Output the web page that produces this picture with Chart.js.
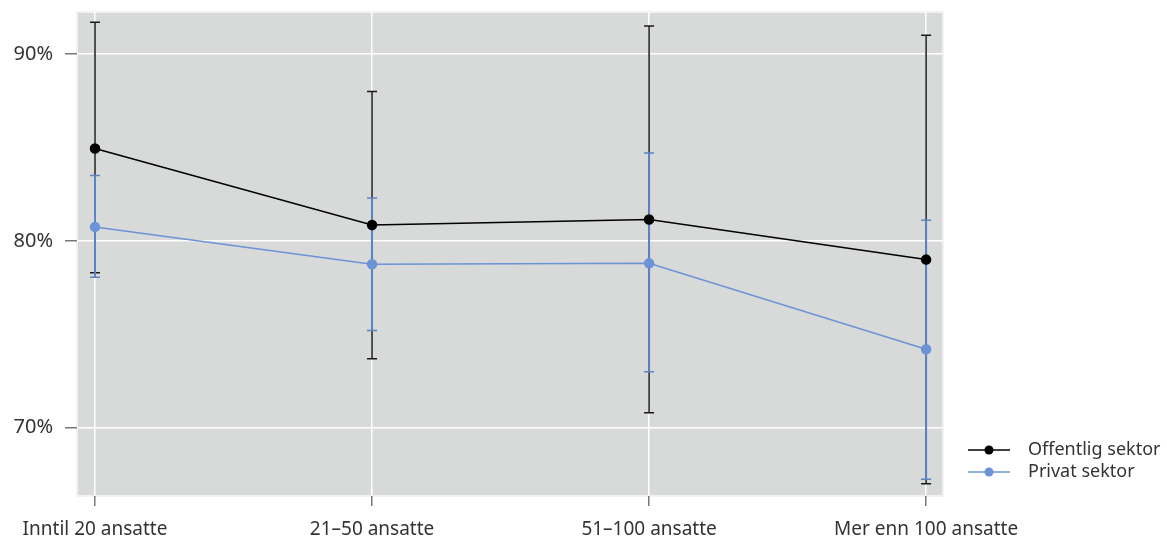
<!DOCTYPE html>
<html>
<head>
<meta charset="utf-8">
<script src="https://cdn.jsdelivr.net/npm/chart.js@4/dist/chart.umd.min.js"></script>
<style>
  html, body { margin: 0; padding: 0; background: #fff; }
  #wrap { width: 1167px; height: 539px; position: relative; }
</style>
</head>
<body>
<div id="wrap"><canvas id="chart"></canvas></div>
<script>
const categories = ["Inntil 20 ansatte", "21–50 ansatte", "51–100 ansatte", "Mer enn 100 ansatte"];
const seriesNames = ["Offentlig sektor", "Privat sektor"];
const offentlig = [84.95, 80.85, 81.15, 79.0];
const offentligLow = [78.3, 73.7, 70.8, 67.0];
const offentligHigh = [91.7, 88.0, 91.5, 91.0];
const privat = [80.75, 78.75, 78.8, 74.2];
const privatLow = [78.05, 75.2, 73.0, 67.25];
const privatHigh = [83.5, 82.3, 84.7, 81.1];
const yTicks = [70, 80, 90];

const BLACK = "#000000";
const BLUE = "#6b93d6";
const BLUE_ERR = "#5b84c4";
const FONT = "'Noto Sans', sans-serif";

const toPoints = (vals) => vals.map((v, i) => ({ x: i, y: v }));

const plotBg = {
  id: "plotBg",
  beforeDraw(chart) {
    const { ctx, chartArea: a } = chart;
    ctx.save();
    ctx.fillStyle = "#d8d9d9";
    ctx.fillRect(a.left, a.top, a.right - a.left, a.bottom - a.top);
    ctx.strokeStyle = "#f2f2f2";
    ctx.lineWidth = 2;
    ctx.strokeRect(a.left, a.top, a.right - a.left, a.bottom - a.top);
    ctx.restore();
  }
};

// error bars, drawn under the lines and points
const errorBars = {
  id: "errorBars",
  beforeDatasetsDraw(chart) {
    const { ctx, scales: { x, y } } = chart;
    const sets = [
      { low: offentligLow, high: offentligHigh, color: "#1a1a1a", width: 1.5 },
      { low: privatLow, high: privatHigh, color: BLUE_ERR, width: 2 }
    ];
    ctx.save();
    sets.forEach(s => {
      ctx.strokeStyle = s.color;
      s.low.forEach((lo, i) => {
        const px = x.getPixelForValue(i);
        const y1 = y.getPixelForValue(lo);
        const y2 = y.getPixelForValue(s.high[i]);
        ctx.lineWidth = s.width;
        ctx.beginPath();
        ctx.moveTo(px, y1);
        ctx.lineTo(px, y2);
        ctx.stroke();
        ctx.lineWidth = 1.5;
        ctx.beginPath();
        ctx.moveTo(px - 5, y1); ctx.lineTo(px + 5, y1);
        ctx.moveTo(px - 5, y2); ctx.lineTo(px + 5, y2);
        ctx.stroke();
      });
    });
    ctx.restore();
  }
};

const sideLegend = {
  id: "sideLegend",
  afterDraw(chart) {
    const { ctx } = chart;
    const items = [
      { label: seriesNames[0], color: BLACK, y: 450 },
      { label: seriesNames[1], color: BLUE, y: 472 }
    ];
    ctx.save();
    ctx.font = "18px " + FONT;
    ctx.textBaseline = "middle";
    items.forEach(it => {
      ctx.strokeStyle = it.color;
      ctx.fillStyle = it.color;
      ctx.lineWidth = 1.5;
      ctx.beginPath();
      ctx.moveTo(968, it.y);
      ctx.lineTo(1010, it.y);
      ctx.stroke();
      ctx.beginPath();
      ctx.arc(989, it.y, 4.5, 0, Math.PI * 2);
      ctx.fill();
      ctx.fillStyle = "#333";
      ctx.fillText(it.label, 1028, it.y);
    });
    ctx.restore();
  }
};

new Chart(document.getElementById("chart"), {
  type: "line",
  data: {
    datasets: [
      {
        label: seriesNames[1],
        data: toPoints(privat),
        borderColor: BLUE,
        backgroundColor: BLUE,
        borderWidth: 1.5,
        pointRadius: 4.5,
        pointHoverRadius: 4.5,
        tension: 0
      },
      {
        label: seriesNames[0],
        data: toPoints(offentlig),
        borderColor: BLACK,
        backgroundColor: BLACK,
        borderWidth: 1.5,
        pointRadius: 4.5,
        pointHoverRadius: 4.5,
        tension: 0
      }
    ]
  },
  options: {
    responsive: true,
    maintainAspectRatio: false,
    animation: false,
    layout: { padding: { top: 12, right: 224, bottom: 0, left: 0 } },
    plugins: {
      legend: { display: false },
      tooltip: { enabled: false }
    },
    scales: {
      x: {
        type: "linear",
        min: -0.065,
        max: 3.061,
        afterBuildTicks: (s) => { s.ticks = categories.map((c, i) => ({ value: i })); },
        afterFit: (s) => { s.height = 43; s.paddingLeft = 0; s.paddingRight = 0; },
        grid: { color: "#ffffff", lineWidth: 1.5, drawTicks: true, tickLength: 10, tickColor: "#777", tickWidth: 1.5 },
        border: { display: false },
        ticks: {
          callback: (v) => categories[v],
          color: "#333",
          font: { family: FONT, size: 19 },
          padding: 12,
          maxRotation: 0,
          autoSkip: false
        }
      },
      y: {
        min: 66.35,
        max: 92.25,
        afterBuildTicks: (s) => { s.ticks = yTicks.map(v => ({ value: v })); },
        afterFit: (s) => { s.width = 77; s.paddingTop = 0; s.paddingBottom = 0; },
        grid: { color: "#ffffff", lineWidth: 1.5, drawTicks: true, tickLength: 12, tickColor: "#777", tickWidth: 1.5 },
        border: { display: false },
        ticks: {
          callback: (v) => v + "%",
          color: "#333",
          font: { family: FONT, size: 20 },
          padding: 12
        }
      }
    }
  },
  plugins: [plotBg, errorBars, sideLegend]
});
</script>
</body>
</html>
